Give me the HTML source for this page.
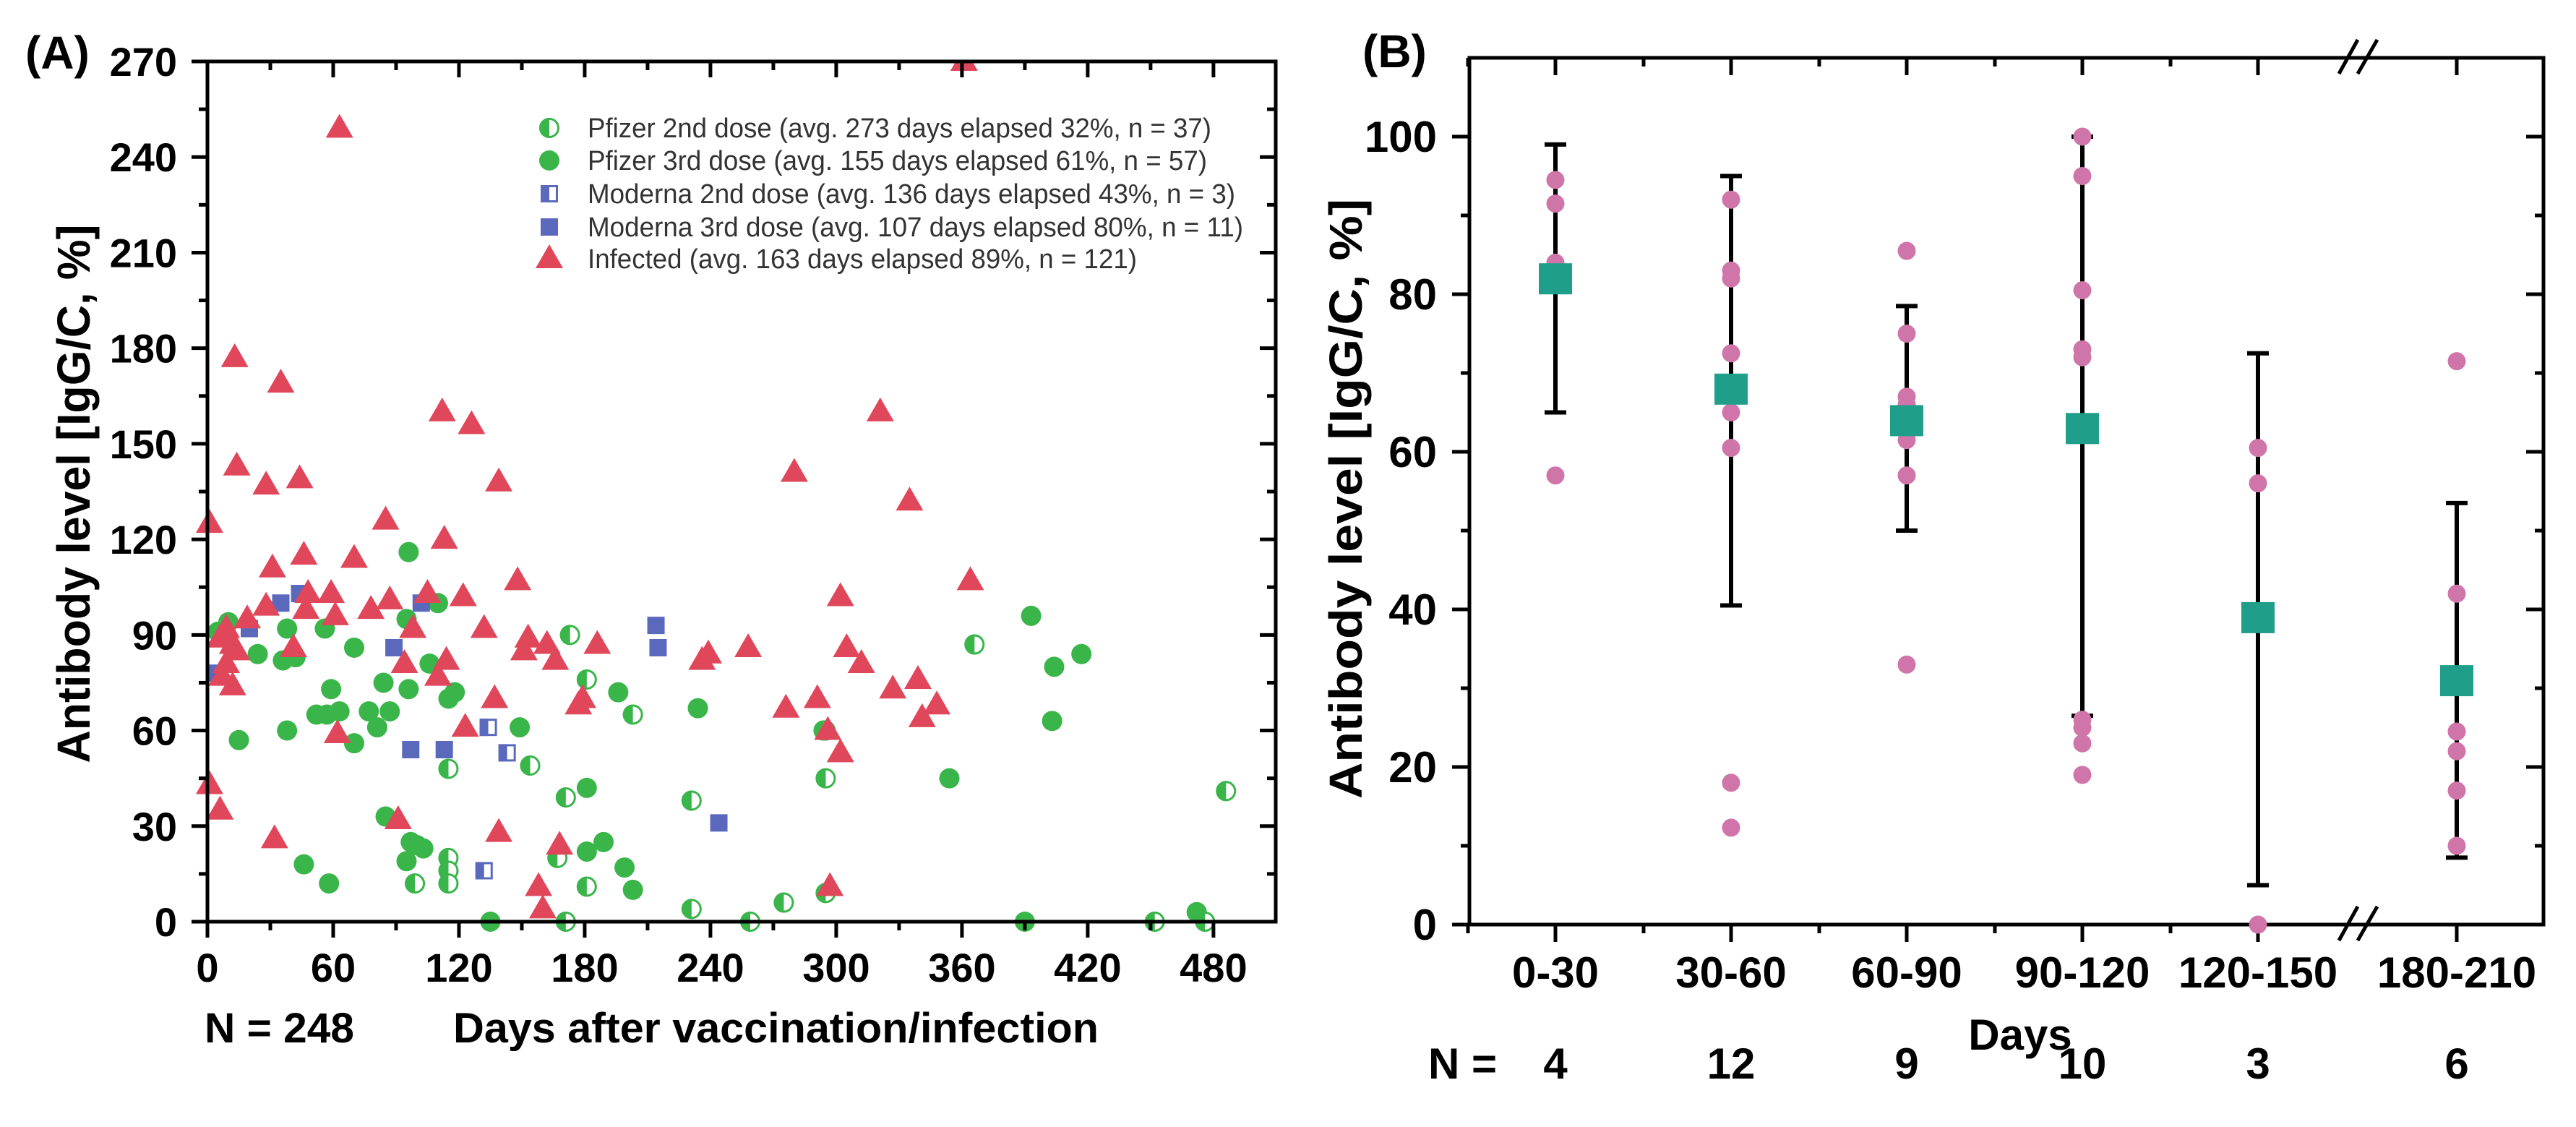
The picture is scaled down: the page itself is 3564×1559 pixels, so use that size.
<!DOCTYPE html>
<html><head><meta charset="utf-8"><style>
html,body{margin:0;padding:0;background:#fff;}
svg{display:block;font-family:"Liberation Sans",Arial,sans-serif;}
</style></head><body>
<svg id="fig" width="3564" height="1559" viewBox="0 0 3564 1559" xmlns="http://www.w3.org/2000/svg">
<rect width="3564" height="1559" fill="#fff"/>
<g id="panelA"></g>
<g id="panelB"></g>
</svg>
<script>
// ---------- Panel A data ----------
const infDays = [1,63,13,35,14,28,44,112,126,139,85,113,31,46,70,28,48,47,59,61,78,87,105,98,94,122,132,148,153,151,162,166,186,114,110,123,137,177,179,321,280,335,364,302,258,236,239,305,312,327,339,348,341,276,291,296,302,297,6,9,12,14,9,7,12,19,41,62,1,6,32,91,139,168,158,160,361];
const infVals = [125,249,177,169,143,137,139,160,156,138,126,120,111,115,114,99,103,98,103,96,98,101,103,92,81,102,92,107,89,85,87,82,87,82,77,61,70,68,70,160,141,132,107,102,86,82,84,86,81,73,76,68,64,67,70,60,53,11,89,92,87,85,81,77,74,95,86,59,43,35,26,32,28,24,11,4,270];
const pf3Days = [10,5,24,38,36,42,15,38,52,57,59,63,56,70,70,77,81,87,84,96,95,96,110,106,118,115,149,85,95,97,100,103,46,58,181,181,189,199,203,196,234,393,404,417,403,354,135,390,295,472];
const pf3Vals = [94,91,84,92,82,83,57,60,65,65,73,66,92,86,56,66,61,66,75,73,95,116,100,81,72,70,61,33,19,25,24,23,18,12,42,22,25,17,10,72,67,96,80,84,63,45,0,0,60,3];
const pf2Days = [173,181,203,115,154,171,115,115,115,99,167,181,231,231,171,259,275,295,295,366,486,452,476,294];
const pf2Vals = [90,76,65,48,49,39,20,16,12,12,20,11,38,4,0,0,6,9,45,87,41,0,0,60];
const mo3Days = [5,20,35,44,89,102,97,113,214,215,244];
const mo3Vals = [78,92,100,103,86,100,54,54,93,86,31];
const mo2Days = [134,143,132];
const mo2Vals = [61,53,16];
const xTicksA = [0,60,120,180,240,300,360,420,480];
const yTicksA = [0,30,60,90,120,150,180,210,240,270];
const legendLabels = [
 "Pfizer 2nd dose (avg. 273 days elapsed 32%, n = 37)",
 "Pfizer 3rd dose (avg. 155 days elapsed 61%, n = 57)",
 "Moderna 2nd dose (avg. 136 days elapsed 43%, n = 3)",
 "Moderna 3rd dose (avg. 107 days elapsed 80%, n = 11)",
 "Infected (avg. 163 days elapsed 89%, n = 121)"];

// ---------- Panel B data ----------
const catLabels = ["0-30","30-60","60-90","90-120","120-150","180-210"];
const catN = ["4","12","9","10","3","6"];
const means = [82,68,64,63,39,31];
const errLow = [65,40.5,50,26.5,5,8.5];
const errHigh = [99,95,78.5,100,72.5,53.5];
const ptsCat = [0,0,0,0, 1,1,1,1,1,1,1,1, 2,2,2,2,2,2,2,2, 3,3,3,3,3,3,3,3,3, 4,4,4, 5,5,5,5,5,5];
const ptsVal = [94.5,91.5,84,57, 92,83,82,72.5,65,60.5,18,12.3, 85.5,75,67,66,65,61.5,57,33, 100,95,80.5,73,72,26,25,23,19, 60.5,56,0, 71.5,42,24.5,22,17,10];
const yTicksB = [0,20,40,60,80,100];

const NS="http://www.w3.org/2000/svg";
function mk(tag,attrs,parent,name,txt){const e=document.createElementNS(NS,tag);for(const k in attrs)e.setAttribute(k,attrs[k]);
 
 
 if(txt!==undefined)e.textContent=txt;parent.appendChild(e);return e;}

// ---------- Panel A ----------
const A=document.getElementById('panelA');
const AL=287,AR=1765,AT=85,AB=1275,XMAX=509.7,YMAX=270;
const xA=d=>AL+d*(AR-AL)/XMAX;
const yA=v=>AB-v*(AB-AT)/YMAX;
const GREEN="#39b54a",RED="#e0475b",BLUE="#5b69bd";
function tri(cx,cy,name,g){mk('polygon',{points:`${cx},${cy-20} ${cx+19},${cy+13} ${cx-19},${cy+13}`,fill:RED},g,name);}
function circ(cx,cy,name,g){mk('circle',{cx:cx,cy:cy,r:14,fill:GREEN},g,name);}
function halfCirc(cx,cy,name,g){const gg=mk('g',{},g,name);
 mk('circle',{cx:cx,cy:cy,r:12.5,fill:"#fff",stroke:GREEN,'stroke-width':3},gg,'marker-outline');
 mk('path',{d:`M${cx},${cy-14} A14,14 0 0 0 ${cx},${cy+14} Z`,fill:GREEN},gg,'marker-fill');}
function sq(cx,cy,name,g){mk('rect',{x:cx-12,y:cy-12,width:24,height:24,fill:BLUE},g,name);}
function halfSq(cx,cy,name,g){const gg=mk('g',{},g,name);
 mk('rect',{x:cx-10.5,y:cy-10.5,width:21,height:21,fill:"#fff",stroke:BLUE,'stroke-width':3},gg,'marker-outline');
 mk('rect',{x:cx-12,y:cy-12,width:12,height:24,fill:BLUE},gg,'marker-fill');}

const mA=mk('g',{},A,'scatter-points');
const clipA=mk('clipPath',{id:'clipA'},A,'clip');
mk('rect',{x:AL-25,y:AT,width:AR-AL+25,height:AB-AT+20},clipA,'clip-rect');
mA.setAttribute('clip-path','url(#clipA)');
const gPf3=mk('g',{},mA,'pfizer-3rd-series');
pf3Days.forEach((d,i)=>circ(xA(d),yA(pf3Vals[i]),'pfizer-3rd-point',gPf3));
const gPf2=mk('g',{},mA,'pfizer-2nd-series');
pf2Days.forEach((d,i)=>halfCirc(xA(d),yA(pf2Vals[i]),'pfizer-2nd-point',gPf2));
const gMo3=mk('g',{},mA,'moderna-3rd-series');
mo3Days.forEach((d,i)=>sq(xA(d),yA(mo3Vals[i]),'moderna-3rd-point',gMo3));
const gMo2=mk('g',{},mA,'moderna-2nd-series');
mo2Days.forEach((d,i)=>halfSq(xA(d),yA(mo2Vals[i]),'moderna-2nd-point',gMo2));
const gInf=mk('g',{},mA,'infected-series');
infDays.forEach((d,i)=>tri(xA(d),yA(infVals[i]),'infected-point',gInf));

// axes A
const axA=mk('g',{stroke:"#000",'stroke-width':5,fill:"none"},A,'axes-a');
mk('rect',{x:AL,y:AT,width:AR-AL,height:AB-AT},axA,'plot-frame');
for(let d=0;d<=XMAX;d+=30){const maj=d%60===0;const x=xA(d);
 mk('line',{x1:x,y1:AB,x2:x,y2:AB+(maj?22:12)},axA,'x-tick');
 mk('line',{x1:x,y1:AT,x2:x,y2:AT+(maj?22:12)},axA,'x-top-tick');}
for(let v=0;v<=YMAX;v+=15){const maj=v%30===0;const y=yA(v);
 mk('line',{x1:AL,y1:y,x2:AL-(maj?22:12),y2:y},axA,'y-tick');
 mk('line',{x1:AR,y1:y,x2:AR-(maj?22:12),y2:y},axA,'y-right-tick');}
const tA=mk('g',{'font-weight':'bold','font-size':56,fill:'#000'},A,'tick-labels-a');
xTicksA.forEach(d=>mk('text',{x:xA(d),y:1358,'text-anchor':'middle'},tA,'x-tick-label',String(d)));
yTicksA.forEach(v=>mk('text',{x:245,y:yA(v)+20,'text-anchor':'end'},tA,'y-tick-label',String(v)));
mk('text',{x:35,y:95,'font-weight':'bold','font-size':64},A,'panel-label-a','(A)');
mk('text',{x:0,y:0,transform:'translate(124,683) rotate(-90)','text-anchor':'middle','font-weight':'bold','font-size':64,textLength:745,lengthAdjust:'spacingAndGlyphs'},A,'y-axis-title-a','Antibody level [IgG/C, %]');
mk('text',{x:283,y:1442,'font-weight':'bold','font-size':58,textLength:207,lengthAdjust:'spacingAndGlyphs'},A,'n-total-label','N = 248');
mk('text',{x:627,y:1442,'font-weight':'bold','font-size':58,textLength:893,lengthAdjust:'spacingAndGlyphs'},A,'x-axis-title-a','Days after vaccination/infection');
// legend
const lg=mk('g',{},A,'legend');
const lgY=[177,222,268,314,358];
const lgW=[863,857,896,907,760];
const lgFns=[halfCirc,circ,halfSq,sq,tri];
legendLabels.forEach((t,i)=>{const e=mk('g',{},lg,'legend-entry');
 lgFns[i](760,lgY[i],'legend-marker',e);
 mk('text',{x:813,y:lgY[i]+13,'font-size':38,fill:'#333',textLength:lgW[i],lengthAdjust:'spacingAndGlyphs'},e,'legend-label',t);});

// ---------- Panel B ----------
const B=document.getElementById('panelB');
const BL=2033,BR=3519,BT=80,BB=1279;
const xB=i=>2152+i*243+(i>=5?32:0);
const yB=v=>BB-v*10.9;
const axB=mk('g',{stroke:"#000",'stroke-width':5,fill:"none"},B,'axes-b');
mk('rect',{x:BL,y:BT,width:BR-BL,height:BB-BT},axB,'plot-frame-b');
for(let v=0;v<=105;v+=10){const maj=v%20===0;const y=yB(v);
 mk('line',{x1:BL,y1:y,x2:BL-(maj?24:12),y2:y},axB,'y-tick');
 mk('line',{x1:BR,y1:y,x2:BR-(maj?24:12),y2:y},axB,'y-right-tick');}
catLabels.forEach((c,i)=>{const x=xB(i);
 mk('line',{x1:x,y1:BB,x2:x,y2:BB+24},axB,'x-tick');
 mk('line',{x1:x,y1:BT,x2:x,y2:BT+24},axB,'x-top-tick');
 if(i<5){const xm=x-121;mk('line',{x1:xm,y1:BB,x2:xm,y2:BB+12},axB,'x-minor-tick');mk('line',{x1:xm,y1:BT,x2:xm,y2:BT+12},axB,'x-minor-tick');}});
// break marks
const br=mk('g',{stroke:'#000','stroke-width':5},B,'axis-break');
[[BB],[BT]].forEach(([yy])=>{
 mk('line',{x1:3236,y1:yy+22,x2:3262,y2:yy-25},br,'break-slash');
 mk('line',{x1:3262,y1:yy+22,x2:3289,y2:yy-25},br,'break-slash');});
// error bars
const eb=mk('g',{stroke:'#000','stroke-width':6},B,'error-bars');
means.forEach((m,i)=>{const x=xB(i);
 mk('line',{x1:x,y1:yB(errLow[i]),x2:x,y2:yB(errHigh[i])},eb,'error-bar');
 mk('line',{x1:x-15,y1:yB(errLow[i]),x2:x+15,y2:yB(errLow[i])},eb,'error-cap-low');
 mk('line',{x1:x-15,y1:yB(errHigh[i]),x2:x+15,y2:yB(errHigh[i])},eb,'error-cap-high');});
const pg=mk('g',{fill:'#cf75a9'},B,'individual-points');
ptsVal.forEach((v,i)=>mk('circle',{cx:xB(ptsCat[i]),cy:yB(v),r:12.5},pg,'sample-point'));
const mg=mk('g',{fill:'#1f9e89'},B,'mean-markers');
means.forEach((m,i)=>mk('rect',{x:xB(i)-23,y:yB(m)-21,width:46,height:43},mg,'mean-square'));
const tB=mk('g',{'font-weight':'bold','font-size':60,fill:'#000'},B,'tick-labels-b');
yTicksB.forEach(v=>mk('text',{x:1988,y:yB(v)+21,'text-anchor':'end'},tB,'y-tick-label',String(v)));
catLabels.forEach((c,i)=>mk('text',{x:xB(i),y:1366,'text-anchor':'middle'},tB,'x-tick-label',c));
catN.forEach((n,i)=>mk('text',{x:xB(i),y:1492,'text-anchor':'middle'},tB,'n-count-label',n));
mk('text',{x:1976,y:1492,'font-weight':'bold','font-size':60},B,'n-row-label','N =');
mk('text',{x:2795,y:1452,'text-anchor':'middle','font-weight':'bold','font-size':60},B,'x-axis-title-b','Days');
mk('text',{x:1885,y:93,'font-weight':'bold','font-size':64},B,'panel-label-b','(B)');
mk('text',{x:0,y:0,transform:'translate(1884,690) rotate(-90)','text-anchor':'middle','font-weight':'bold','font-size':64,textLength:830,lengthAdjust:'spacingAndGlyphs'},B,'y-axis-title-b','Antibody level [IgG/C, %]');
</script>
</body></html>
